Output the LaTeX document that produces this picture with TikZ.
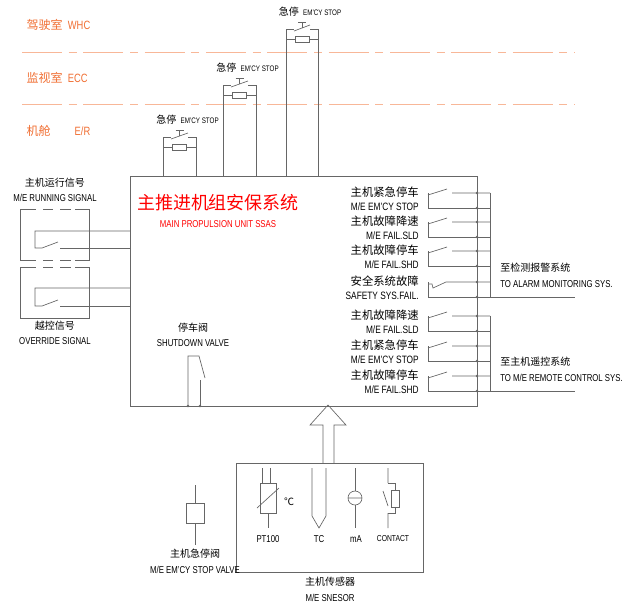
\documentclass[tikz,border=0pt]{standalone}
\usepackage{fontspec}
\setmainfont{Liberation Sans}[FakeStretch=0.78]
\newfontfamily\cn{Noto Sans CJK SC}
\definecolor{zoneorange}{RGB}{240,110,50}
\begin{document}
\begin{tikzpicture}[x=0.75pt,y=-0.75pt,
    wire/.style={draw=black!60,line width=0.5pt},
    zonetext/.style={text=zoneorange,font=\fontsize{9}{10}\selectfont,anchor=west},
    lbl/.style={font=\fontsize{7.5}{9}\selectfont,align=center,inner sep=0pt},
    dot/.style={circle,fill=black!60,inner sep=0pt,minimum size=2pt}]

    \useasboundingbox (0,0) rectangle (640,608);

    % zones
    \node[zonetext] (whc) at (22,25) {{\cn 驾驶室}\ \ WHC};
    \node[zonetext] (ecc) at (22,78) {{\cn 监视室}\ \ ECC};
    \node[zonetext] (er) at (22,131) {{\cn 机舱}\qquad E/R};
    \draw[zoneorange!50, dash pattern=on 30pt off 5pt on 6pt off 5pt] (22,52) -- (575,52);
    \draw[zoneorange!50, dash pattern=on 30pt off 5pt on 6pt off 5pt] (22,104) -- (575,104);

    % main unit
    \draw[wire] (130,176) rectangle (477,406);
    \node[text=red,font=\cn\fontsize{13.5}{14}\selectfont] (title) at (218,203) {主推进机组安保系统};
    \node[text=red,lbl] (titleen) at (218,224) {MAIN PROPULSION UNIT SSAS};

    % emergency stop buttons
    \foreach \xl/\xr/\yt in {163/196/137, 223/256/85, 286/318/29}
    {
        \draw[wire] (\xl,176) -- (\xl,\yt) -- ({\xl+8},\yt);
        \draw[wire] ({\xl+8},{\yt+2}) -- ({\xr-8},{\yt-4});
        \draw[wire] ({\xr-8},\yt) -- (\xr,\yt) -- (\xr,176);
        \draw[wire] ({(\xl+\xr)/2},{\yt-1}) -- ({(\xl+\xr)/2},{\yt-7}) ({(\xl+\xr)/2-4},{\yt-7}) -- ({(\xl+\xr)/2+4},{\yt-7});
        \draw[wire] (\xl,{\yt+10}) -- ({(\xl+\xr)/2-7},{\yt+10}) ({(\xl+\xr)/2+7},{\yt+10}) -- (\xr,{\yt+10});
        \draw[wire] ({(\xl+\xr)/2-7},{\yt+7}) rectangle ({(\xl+\xr)/2+7},{\yt+13});
        \node[lbl,anchor=south] (stop\xl) at ({(\xl+\xr)/2+8},{\yt-12}) {{\cn 急停}\ \ {\fontsize{6}{7}\selectfont EM'CY STOP}};
    }

    % running / override signals
    \foreach \ya/\yb/\yc in {209/231/248, 267/288/306}
    {
        \draw[wire] (20,\ya) rectangle (89,{\ya+51});
        \draw[wire] (130,\yb) -- (35,\yb) -- (35,\yc) -- (42,\yc) -- (58,{\yc-6});
        \draw[wire] (60,\yc) -- (130,\yc);
    }
    \draw[white,line width=1.5pt,dash pattern=on 5pt off 8pt] (36,209) -- (75,209) (36,260) -- (75,260) (36,267) -- (75,267);
    \node[lbl] (runcn) at (55,183) {\cn 主机运行信号};
    \node[lbl] (runen) at (55,198) {M/E RUNNING SIGNAL};
    \node[lbl] (ovcn) at (55,326) {\cn 越控信号};
    \node[lbl] (oven) at (55,341) {OVERRIDE SIGNAL};

    % shutdown valve
    \node[lbl] (sdcn) at (193,328) {\cn 停车阀};
    \node[lbl] (sden) at (193,343) {SHUTDOWN VALVE};
    \draw[wire] (188,406) -- (188,356) -- (199,356) -- (205,378);
    \draw[wire] (200,380) -- (200,406);
    \node[dot] (sd1) at (188,406) {};
    \node[dot] (sd2) at (200,406) {};

    % output contacts
    \foreach \y/\cntext/\entext/\nc in {193/主机紧急停车/{M/E EM'CY STOP}/0, 222/主机故障降速/{M/E FAIL.SLD}/0,
        251/主机故障停车/{M/E FAIL.SHD}/0, 282/安全系统故障/{SAFETY SYS.FAIL.}/1, 316/主机故障降速/{M/E FAIL.SLD}/0,
        346/主机紧急停车/{M/E EM'CY STOP}/0, 376/主机故障停车/{M/E FAIL.SHD}/0}
    {
        \draw[wire] (428,{\y+15}) -- (490,{\y+15});
        \draw[wire] (428,{\y+15}) -- (428,\y);
        \ifnum\nc=0
            \draw[wire] (428,{\y+2}) -- (447,{\y-4}) (452,\y) -- (490,\y);
        \else
            \draw[wire] (428,{\y+2}) -- (432,{\y+2}) -- (433,{\y+6}) -- (446,\y) -- (490,\y);
        \fi
        \node[dot] at (477,\y) {};
        \node[dot] at (477,{\y+15}) {};
        \node[lbl,anchor=east] at (419,{\y-1}) {\cn\fontsize{8.5}{9}\selectfont \cntext};
        \node[lbl,anchor=east] at (419,{\y+14}) {\fontsize{8}{9}\selectfont\entext};
    }
    \draw[wire] (490,193) -- (490,297) -- (575,297);
    \draw[wire] (490,316) -- (490,391) -- (575,391);
    \node[lbl,anchor=west] (alarmcn) at (500,268) {\cn 至检测报警系统};
    \node[lbl,anchor=west] (alarmen) at (500,284) {TO ALARM MONITORING SYS.};
    \node[lbl,anchor=west] (rccn) at (500,362) {\cn 至主机遥控系统};
    \node[lbl,anchor=west] (rcen) at (500,378) {TO M/E REMOTE CONTROL SYS.};

    % sensors
    \draw[wire] (236,463) rectangle (423,572);
    \draw[wire] (323,463) -- (323,425) -- (310,425) -- (328,405) -- (346,425) -- (334,425) -- (334,463);
    \node[lbl] (sencn) at (330,582) {\cn 主机传感器};
    \node[lbl] (senen) at (330,598) {M/E SNESOR};
    % PT100
    \draw[wire] (262,468) -- (262,483) (270,468) -- (270,483) (260,483) rectangle (276,513) (268,513) -- (268,528);
    \draw[wire] (257,508) -- (279,488);
    \node[lbl] (deg) at (289,502) {\cn ℃};
    \node[lbl] (pt) at (268,539) {PT100};
    % TC
    \draw[wire] (312,468) -- (312,516) -- (319,528) -- (326,516) -- (326,468);
    \node[lbl] (tc) at (319,539) {TC};
    % mA
    \draw[wire] (355,468) -- (355,491) (355,505) -- (355,528);
    \draw[wire] (355,498) circle (7) (348,498) -- (362,498);
    \node[lbl] (ma) at (356,539) {mA};
    % contact
    \draw[wire] (388,468) -- (388,483) (383,491) -- (388,506) (388,513) -- (388,528);
    \draw[wire] (388,483) -- (395,483) -- (395,490) (395,507) -- (395,513) -- (388,513);
    \draw[wire] (391,490) rectangle (399,507);
    \node[lbl] (contact) at (393,539) {\fontsize{6.5}{7}\selectfont CONTACT};

    % emergency stop valve
    \draw[wire] (195,485) -- (195,503) (186,503) rectangle (204,523) (195,523) -- (195,545);
    \node[lbl] (valvecn) at (195,554) {\cn 主机急停阀};
    \node[lbl] (valveen) at (195,570) {M/E EM'CY STOP VALVE};

\end{tikzpicture}
\end{document}
